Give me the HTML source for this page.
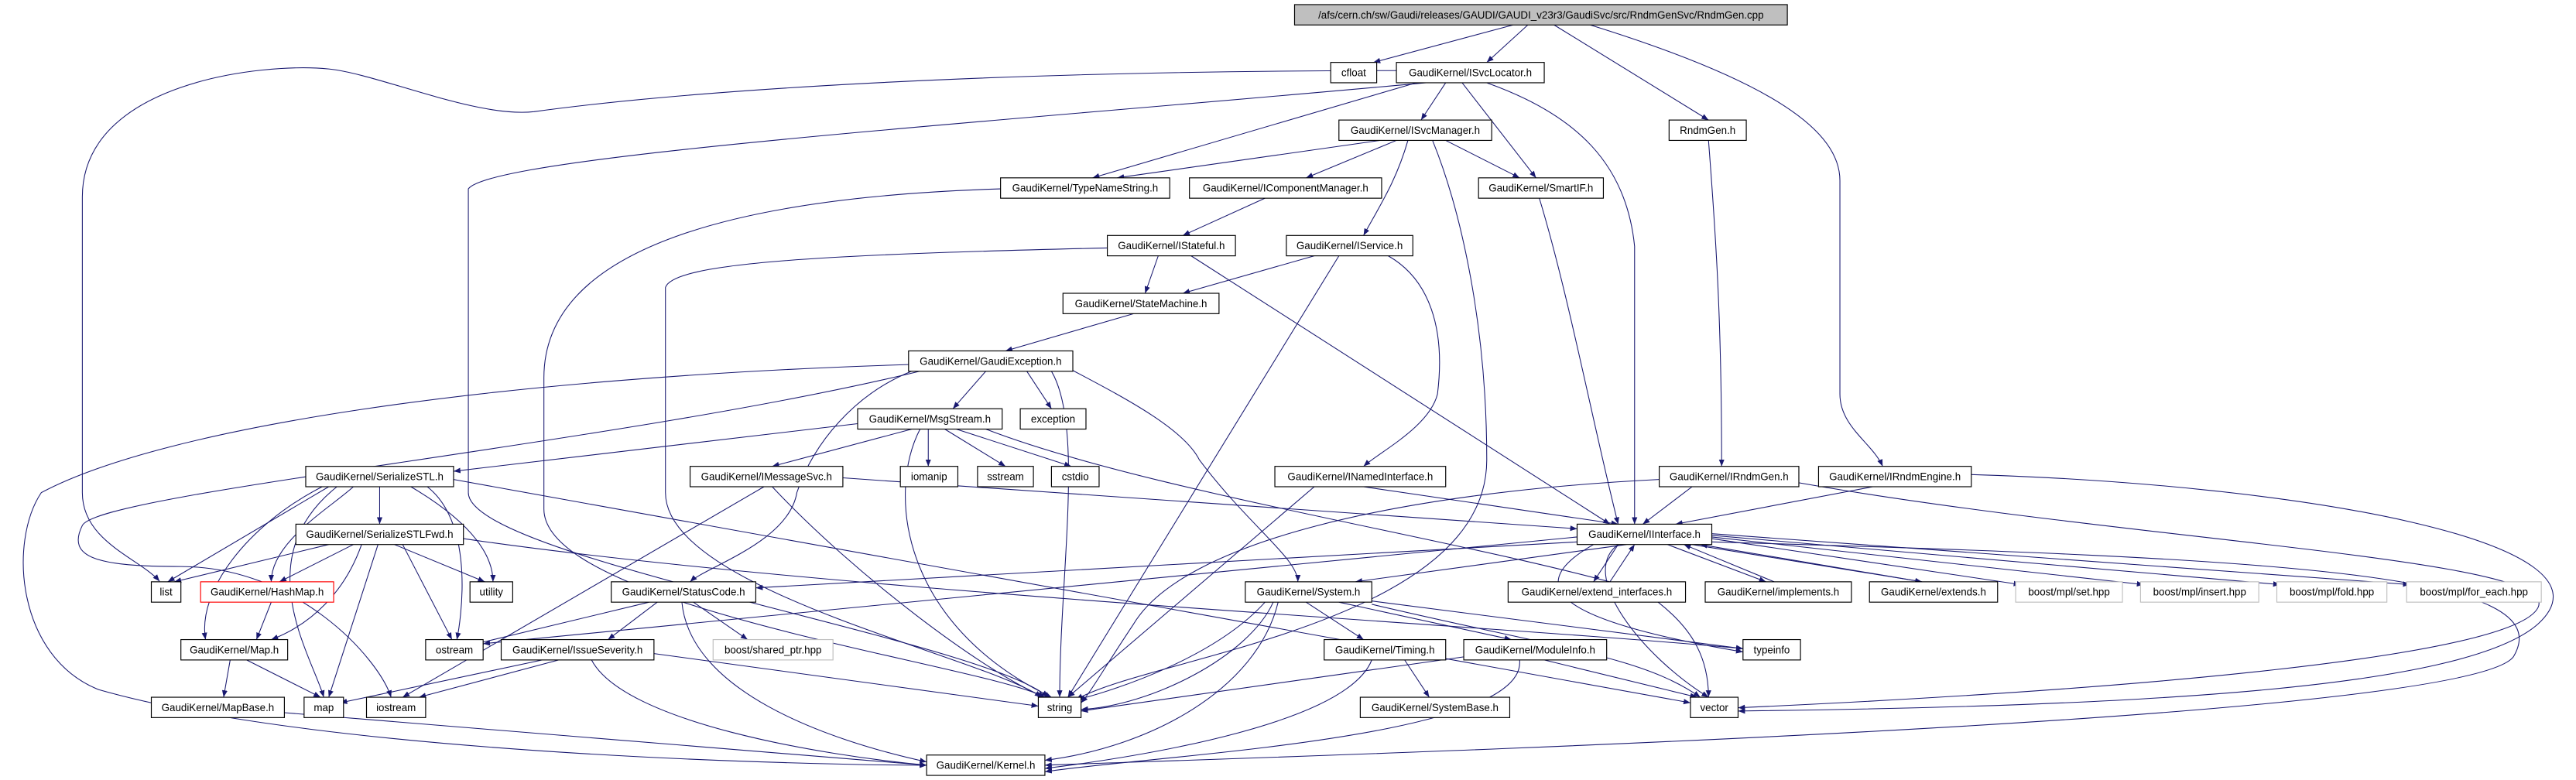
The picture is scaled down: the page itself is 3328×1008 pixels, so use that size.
<!DOCTYPE html>
<html><head><meta charset="utf-8"><style>
html,body{margin:0;padding:0;background:#fff}
svg{display:block}
.n rect{fill:#fff;stroke:#000;stroke-width:0.55}
.n text{font-family:"Liberation Sans",sans-serif;font-size:6.3px;text-anchor:middle;fill:#000}
.e path{fill:none;stroke:#191970;stroke-width:0.5;marker-end:url(#a)}
</style></head><body>
<svg width="3328" height="1008" viewBox="0 0 1568 475" xmlns="http://www.w3.org/2000/svg">
<defs><marker id="a" viewBox="0 0 10 10" refX="10" refY="5" markerWidth="4.2" markerHeight="4.2" markerUnits="userSpaceOnUse" orient="auto"><path d="M0,1 L10,5 L0,9z" fill="#191970"/></marker></defs>
<g class="e">
<path d="M921,15.2 L836,38"/>
<path d="M930,15.2 L905,38"/>
<path d="M946,15.2 L1040,73.1"/>
<path d="M968,15.2 C1080,50 1120,80 1120,110 L1120,240 C1120,260 1140,270 1146,284"/>
<path d="M852,43 C600,43 420,55 325,68 C290,72 230,45 200,42 C160,38 50,50 50,120 L50,300 C50,330 85,340 97,354"/>
<path d="M868,50.4 C600,75 300,95 285,115 L285,300 C285,340 600,390 638,424.6"/>
<path d="M880,50.4 L865,73.1"/>
<path d="M862,50.4 L665,108.3"/>
<path d="M890,50.4 L935,108.3"/>
<path d="M905,50.4 C960,70 990,100 995,150 L995,319.2"/>
<path d="M840,85.5 L680,108.3"/>
<path d="M850,85.5 L795,108.3"/>
<path d="M880,85.5 L925,108.3"/>
<path d="M857,85.5 C850,110 840,125 830,143.4"/>
<path d="M872,85.5 C890,130 905,200 905,280 C905,380 700,400 655,426"/>
<path d="M1040,85.5 C1045,150 1048,200 1048,284"/>
<path d="M609,115 C450,120 331,150 331,230 L331,310 C331,370 600,405 636,424.6"/>
<path d="M937,120.7 C955,180 970,260 985,319.2"/>
<path d="M770,120.7 L720,143.4"/>
<path d="M705,155.8 L697,178.6"/>
<path d="M725,155.8 L980,319.2"/>
<path d="M674,151 C500,155 410,160 405,175 L405,300 C405,360 600,400 634,424.6"/>
<path d="M800,155.8 L720,178.6"/>
<path d="M815,155.8 L650,424.6"/>
<path d="M845,155.8 C870,170 880,200 875,240 C870,260 840,275 830,284"/>
<path d="M690,191 L612,213.7"/>
<path d="M600,226.1 L580,248.9"/>
<path d="M625,226.1 L640,248.9"/>
<path d="M640,226.1 C660,260 645,350 645,424.6"/>
<path d="M650,224 C680,240 720,260 730,280 C760,320 790,340 790,354.3"/>
<path d="M555,226 C520,240 495,270 485,300 C480,330 430,345 420,354.3"/>
<path d="M553,222 C300,230 100,260 25,300 C5,330 10,400 60,420 C200,460 500,466 564,466"/>
<path d="M560,226 C380,270 60,300 50,320 C40,340 60,345 110,345 C180,345 230,400 238,424.6"/>
<path d="M522,258 L276,287"/>
<path d="M555,261.3 L470,284"/>
<path d="M565,261.3 L565,284"/>
<path d="M575,261.3 L612,284"/>
<path d="M582,261.3 L652,284"/>
<path d="M560,261.3 C540,300 548,380 640,424.6"/>
<path d="M600,261.3 C700,300 900,330 1000,360 C1030,380 1040,400 1040,424.6"/>
<path d="M231,296.4 L231,319.2"/>
<path d="M200,296.4 L102,354.3"/>
<path d="M215,296.4 C200,310 165,330 165,354.3"/>
<path d="M250,296.4 C290,320 300,340 300,354.3"/>
<path d="M260,296.4 C290,320 280,380 278,389.5"/>
<path d="M196,296.4 C150,320 120,360 125,389.5"/>
<path d="M205,296.4 C150,340 190,400 197,424.6"/>
<path d="M276,292 L1029,428"/>
<path d="M200,331.6 L106,354.3"/>
<path d="M215,331.6 L170,354.3"/>
<path d="M240,331.6 L295,354.3"/>
<path d="M245,331.6 L275,389.5"/>
<path d="M220,331.6 C210,360 190,380 165,389.5"/>
<path d="M230,331.6 L200,424.6"/>
<path d="M282,328 C500,360 900,380 1061,395"/>
<path d="M513,291 L960,322"/>
<path d="M470,296.4 C520,350 600,410 636,424.6"/>
<path d="M465,296.4 L245,424.6"/>
<path d="M830,296.4 L985,319.2"/>
<path d="M800,296.4 L650,424.6"/>
<path d="M1030,296.4 L1000,319.2"/>
<path d="M1010,292 C850,300 720,330 690,380 C670,410 665,420 658,428"/>
<path d="M1095,294 C1300,330 1560,340 1545,370 C1530,400 1300,420 1058,431"/>
<path d="M1140,296.4 L1020,319.2"/>
<path d="M1200,289 C1400,295 1600,330 1545,380 C1500,420 1300,430 1058,433"/>
<path d="M960,330 L460,358"/>
<path d="M990,331.6 L825,354.3"/>
<path d="M985,331.6 L970,354.3"/>
<path d="M1015,331.6 L1075,354.3"/>
<path d="M1030,331.6 L1170,354.3"/>
<path d="M1042,328 L1230,356"/>
<path d="M1042,327 L1305,356"/>
<path d="M1042,326 L1388,356"/>
<path d="M1042,325 L1467,356"/>
<path d="M960,327 L294,392"/>
<path d="M970,331.6 C920,360 960,380 1061,397"/>
<path d="M985,331.6 C960,350 1000,400 1040,424.6"/>
<path d="M1042,330 C1400,340 1560,350 1530,400 C1500,440 800,460 636,466"/>
<path d="M980,354.3 L995,331.6"/>
<path d="M1080,354.3 L1025,331.6"/>
<path d="M1170,354.3 L1035,331.6"/>
<path d="M395,366.7 L290,392"/>
<path d="M400,366.7 L370,389.5"/>
<path d="M422,366.7 L455,389.5"/>
<path d="M415,366.7 C420,420 500,450 564,464"/>
<path d="M330,401.9 L207,428"/>
<path d="M340,401.9 L255,424.6"/>
<path d="M398,398 L632,430"/>
<path d="M360,401.9 C380,440 500,460 564,466"/>
<path d="M140,401.9 L136,424.6"/>
<path d="M150,401.9 L195,424.6"/>
<path d="M173,434 L564,466"/>
<path d="M165,366.7 L156,389.5"/>
<path d="M770,366.7 C740,400 680,420 656,426"/>
<path d="M775,366.7 C760,400 700,430 658,432"/>
<path d="M778,366.7 C765,420 700,455 636,463"/>
<path d="M795,366.7 L830,389.5"/>
<path d="M815,366.7 L920,389.5"/>
<path d="M835,366 L1061,395"/>
<path d="M835,368 C950,395 1000,400 1035,424.6"/>
<path d="M855,401.9 L870,424.6"/>
<path d="M835,401.9 C820,440 700,460 636,468"/>
<path d="M891,400 L658,433"/>
<path d="M940,401.9 L1033,424.6"/>
<path d="M925,401.9 C930,450 700,460 636,470"/>
</g>
<g class="n">
<rect x="788" y="2.8" width="300" height="12.4" style="fill:#bfbfbf"/><text x="938" y="11.2">/afs/cern.ch/sw/Gaudi/releases/GAUDI/GAUDI_v23r3/GaudiSvc/src/RndmGenSvc/RndmGen.cpp</text>
<rect x="810" y="38" width="28" height="12.4"/><text x="824" y="46.4">cfloat</text>
<rect x="850" y="38" width="90" height="12.4"/><text x="895" y="46.4">GaudiKernel/ISvcLocator.h</text>
<rect x="815" y="73.1" width="93" height="12.4"/><text x="861.5" y="81.5">GaudiKernel/ISvcManager.h</text>
<rect x="1016" y="73.1" width="47" height="12.4"/><text x="1039.5" y="81.5">RndmGen.h</text>
<rect x="609" y="108.3" width="103" height="12.4"/><text x="660.5" y="116.7">GaudiKernel/TypeNameString.h</text>
<rect x="724" y="108.3" width="117" height="12.4"/><text x="782.5" y="116.7">GaudiKernel/IComponentManager.h</text>
<rect x="900" y="108.3" width="76" height="12.4"/><text x="938" y="116.7">GaudiKernel/SmartIF.h</text>
<rect x="674" y="143.4" width="78" height="12.4"/><text x="713" y="151.8">GaudiKernel/IStateful.h</text>
<rect x="783" y="143.4" width="77" height="12.4"/><text x="821.5" y="151.8">GaudiKernel/IService.h</text>
<rect x="647" y="178.6" width="95" height="12.4"/><text x="694.5" y="187">GaudiKernel/StateMachine.h</text>
<rect x="553" y="213.7" width="100" height="12.4"/><text x="603" y="222.1">GaudiKernel/GaudiException.h</text>
<rect x="522" y="248.9" width="88" height="12.4"/><text x="566" y="257.3">GaudiKernel/MsgStream.h</text>
<rect x="621" y="248.9" width="40" height="12.4"/><text x="641" y="257.3">exception</text>
<rect x="186" y="284" width="90" height="12.4"/><text x="231" y="292.4">GaudiKernel/SerializeSTL.h</text>
<rect x="420" y="284" width="93" height="12.4"/><text x="466.5" y="292.4">GaudiKernel/IMessageSvc.h</text>
<rect x="548" y="284" width="35" height="12.4"/><text x="565.5" y="292.4">iomanip</text>
<rect x="595" y="284" width="34" height="12.4"/><text x="612" y="292.4">sstream</text>
<rect x="640" y="284" width="29" height="12.4"/><text x="654.5" y="292.4">cstdio</text>
<rect x="776" y="284" width="104" height="12.4"/><text x="828" y="292.4">GaudiKernel/INamedInterface.h</text>
<rect x="1010" y="284" width="85" height="12.4"/><text x="1052.5" y="292.4">GaudiKernel/IRndmGen.h</text>
<rect x="1107" y="284" width="93" height="12.4"/><text x="1153.5" y="292.4">GaudiKernel/IRndmEngine.h</text>
<rect x="180" y="319.2" width="102" height="12.4"/><text x="231" y="327.6">GaudiKernel/SerializeSTLFwd.h</text>
<rect x="960" y="319.2" width="82" height="12.4"/><text x="1001" y="327.6">GaudiKernel/IInterface.h</text>
<rect x="92" y="354.3" width="18" height="12.4"/><text x="101" y="362.7">list</text>
<rect x="122" y="354.3" width="81" height="12.4" style="stroke:#ff0000"/><text x="162.5" y="362.7">GaudiKernel/HashMap.h</text>
<rect x="286" y="354.3" width="26" height="12.4"/><text x="299" y="362.7">utility</text>
<rect x="372" y="354.3" width="88" height="12.4"/><text x="416" y="362.7">GaudiKernel/StatusCode.h</text>
<rect x="758" y="354.3" width="77" height="12.4"/><text x="796.5" y="362.7">GaudiKernel/System.h</text>
<rect x="918" y="354.3" width="108" height="12.4"/><text x="972" y="362.7">GaudiKernel/extend_interfaces.h</text>
<rect x="1038" y="354.3" width="89" height="12.4"/><text x="1082.5" y="362.7">GaudiKernel/implements.h</text>
<rect x="1138" y="354.3" width="78" height="12.4"/><text x="1177" y="362.7">GaudiKernel/extends.h</text>
<rect x="1227" y="354.3" width="65" height="12.4" style="stroke:#bfbfbf"/><text x="1259.5" y="362.7">boost/mpl/set.hpp</text>
<rect x="1303" y="354.3" width="72" height="12.4" style="stroke:#bfbfbf"/><text x="1339" y="362.7">boost/mpl/insert.hpp</text>
<rect x="1386" y="354.3" width="67" height="12.4" style="stroke:#bfbfbf"/><text x="1419.5" y="362.7">boost/mpl/fold.hpp</text>
<rect x="1465" y="354.3" width="82" height="12.4" style="stroke:#bfbfbf"/><text x="1506" y="362.7">boost/mpl/for_each.hpp</text>
<rect x="110" y="389.5" width="65" height="12.4"/><text x="142.5" y="397.9">GaudiKernel/Map.h</text>
<rect x="259" y="389.5" width="35" height="12.4"/><text x="276.5" y="397.9">ostream</text>
<rect x="305" y="389.5" width="93" height="12.4"/><text x="351.5" y="397.9">GaudiKernel/IssueSeverity.h</text>
<rect x="434" y="389.5" width="73" height="12.4" style="stroke:#bfbfbf"/><text x="470.5" y="397.9">boost/shared_ptr.hpp</text>
<rect x="806" y="389.5" width="74" height="12.4"/><text x="843" y="397.9">GaudiKernel/Timing.h</text>
<rect x="891" y="389.5" width="87" height="12.4"/><text x="934.5" y="397.9">GaudiKernel/ModuleInfo.h</text>
<rect x="1061" y="389.5" width="35" height="12.4"/><text x="1078.5" y="397.9">typeinfo</text>
<rect x="92" y="424.6" width="81" height="12.4"/><text x="132.5" y="433">GaudiKernel/MapBase.h</text>
<rect x="185" y="424.6" width="24" height="12.4"/><text x="197" y="433">map</text>
<rect x="223" y="424.6" width="36" height="12.4"/><text x="241" y="433">iostream</text>
<rect x="632" y="424.6" width="26" height="12.4"/><text x="645" y="433">string</text>
<rect x="828" y="424.6" width="91" height="12.4"/><text x="873.5" y="433">GaudiKernel/SystemBase.h</text>
<rect x="1029" y="424.6" width="29" height="12.4"/><text x="1043.5" y="433">vector</text>
<rect x="564" y="459.8" width="72" height="12.4"/><text x="600" y="468.2">GaudiKernel/Kernel.h</text>
</g>
</svg>
</body></html>
